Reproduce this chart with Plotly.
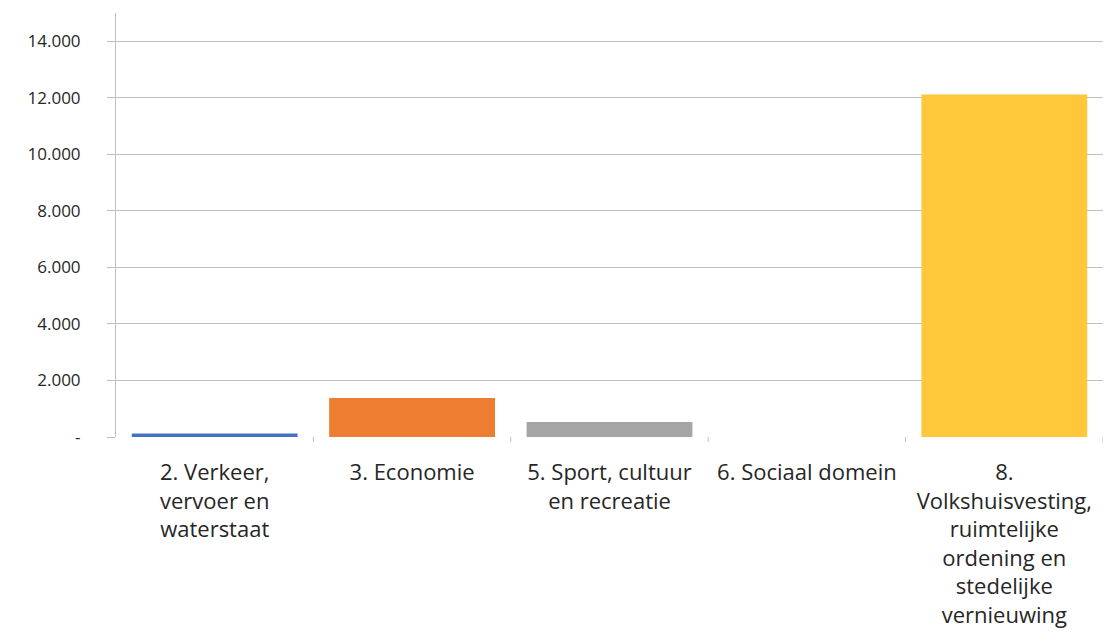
import plotly.graph_objects as go

# Categories (beleidstaken) and amounts
categories = [
    "2. Verkeer,<br>vervoer en<br>waterstaat",
    "3. Economie",
    "5. Sport, cultuur<br>en recreatie",
    "6. Sociaal domein",
    "8.<br>Volkshuisvesting,<br>ruimtelijke<br>ordening en<br>stedelijke<br>vernieuwing",
]
values = [120, 1380, 530, 0, 12120]
bar_colors = ["#4472C4", "#ED7D31", "#A5A5A5", "#7F7F7F", "#FFC83A"]

y_tickvals = [0, 2000, 4000, 6000, 8000, 10000, 12000, 14000]
y_ticktext = ["-", "2.000", "4.000", "6.000", "8.000", "10.000", "12.000", "14.000"]

font_family = "Open Sans, Liberation Sans, sans-serif"
text_color = "#262626"

fig = go.Figure(
    go.Bar(
        x=list(range(len(categories))),
        y=values,
        marker=dict(color=bar_colors, line=dict(width=0)),
        hoverinfo="skip",
    )
)

fig.update_layout(
    width=1105,
    height=643,
    margin=dict(l=116, r=2, t=13, b=206),
    paper_bgcolor="white",
    plot_bgcolor="white",
    bargap=0.16,
    showlegend=False,
    font=dict(family=font_family, size=17, color=text_color),
)

fig.update_xaxes(
    tickmode="array",
    tickvals=list(range(len(categories))),
    ticktext=categories,
    range=[-0.5, len(categories) - 0.5],
    showgrid=False,
    showline=False,
    zeroline=False,
    tickfont=dict(size=22, color=text_color),
    ticks="",
    ticklabelstandoff=20,
)

fig.update_yaxes(
    range=[0, 15000],
    tickmode="array",
    tickvals=y_tickvals,
    ticktext=y_ticktext,
    showgrid=True,
    gridcolor="#BFBFBF",
    gridwidth=1,
    zeroline=False,
    showline=True,
    linecolor="#BFBFBF",
    linewidth=1,
    ticks="outside",
    ticklen=8,
    tickcolor="#BFBFBF",
    tickfont=dict(size=17, color=text_color),
    ticklabelstandoff=23,
)

# small boundary ticks between categories along the baseline
for b in [0.5, 1.5, 2.5, 3.5, 4.5]:
    fig.add_shape(
        type="line", xref="x", yref="paper",
        x0=b, x1=b, y0=0, y1=-0.012,
        line=dict(color="#BFBFBF", width=1),
    )

fig.write_html("out.html")
